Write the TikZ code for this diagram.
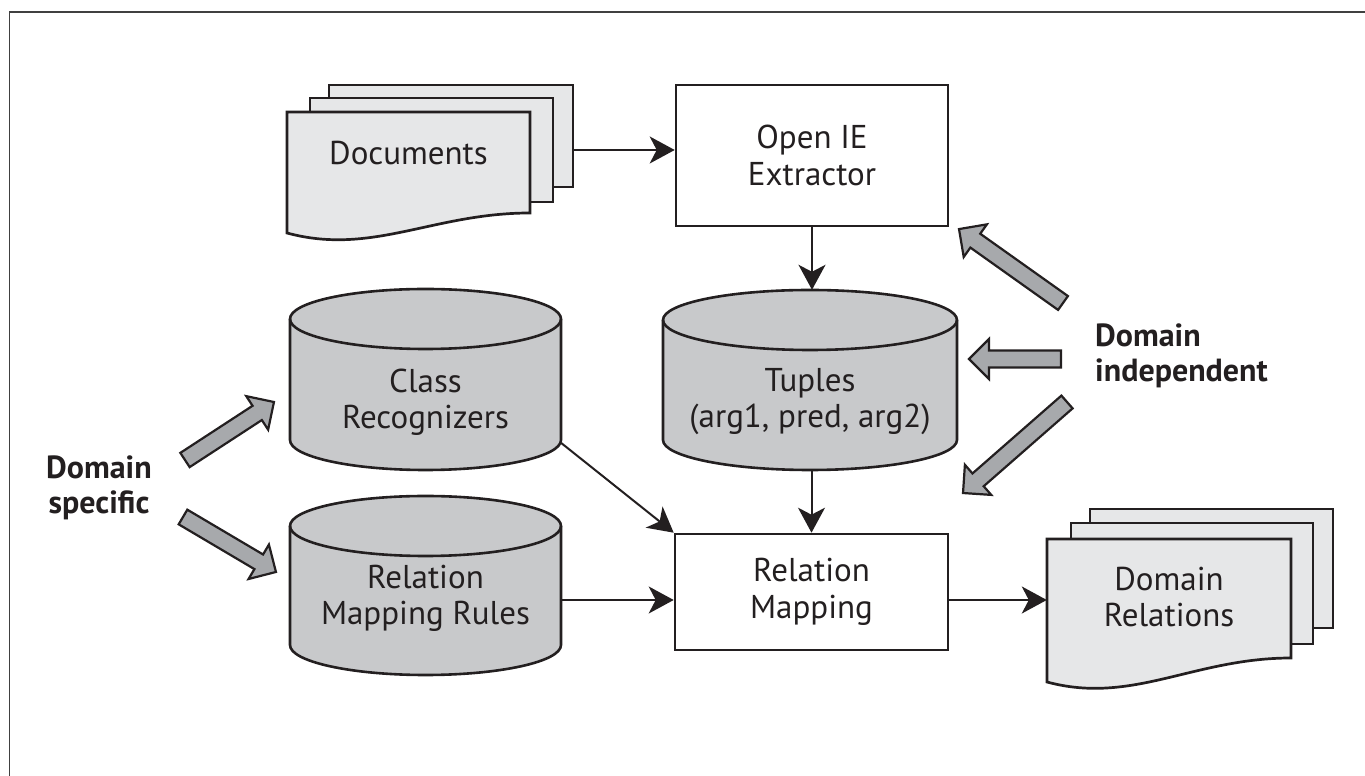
\documentclass[tikz,border=0pt]{standalone}
\usepackage{fontspec}
\setmainfont{PT Sans}
\usetikzlibrary{arrows.meta,calc}
\definecolor{ink}{HTML}{231F20}
\definecolor{docgray}{HTML}{E6E7E8}
\definecolor{cylgray}{HTML}{C8C9CB}
\definecolor{fatgray}{HTML}{A7A9AC}
\tikzset{
  docline/.style={draw=ink, fill=docgray, line width=2.7pt, line join=miter},
  cylline/.style={draw=ink, fill=cylgray, line width=2.6pt},
  boxnode/.style={draw=ink, fill=white, line width=2.6pt, align=center, text=ink,
    font=\fontsize{33}{37}\selectfont},
  txt/.style={align=center, text=ink, font=\fontsize{33}{36}\selectfont, inner sep=0pt},
  ghost/.style={draw=none, inner sep=0pt},
  lbl/.style={text=ink, font=\bfseries\fontsize{32}{35}\selectfont, inner sep=0pt},
  conn/.style={draw=ink, line width=2pt, -{Stealth[length=25pt, width=27pt, inset=7pt]}},
  fatarrow/.style={draw=ink, fill=fatgray, line width=2.2pt, line join=miter},
  frame/.style={draw=black!75, line width=1.5pt}
}
% front sheet of a document stack: x0, Ytop, width, left height, right height
\newcommand\docsheet[5]{%
  \filldraw[docline] (#1,#2) -- ({#1+#3},#2) -- ({#1+#3},{#2-#5})
    .. controls ({#1+0.6*#3},{#2-#5}) and ({#1+0.35*#3},{#2-#4-23}) .. (#1,{#2-#4}) -- cycle;}
% cylinder: x0, x1, Ytop, Ybottom, ry
\newcommand\cylshape[5]{%
  \filldraw[cylline] (#1,{#3-#5}) -- (#1,{#4+#5})
    arc[start angle=180, end angle=360, x radius={(#2-#1)/2}, y radius=#5]
    -- (#2,{#3-#5})
    arc[start angle=0, end angle=180, x radius={(#2-#1)/2}, y radius=#5] -- cycle;
  \draw[cylline, fill=none] (#1,{#3-#5})
    arc[start angle=180, end angle=360, x radius={(#2-#1)/2}, y radius=#5];}
% fat arrow: tail x, tail y, angle, length
\newcommand\fatarr[4]{%
  \filldraw[fatarrow, shift={(#1,#2)}, rotate=#3] (0,-8.5) -- ({#4-20},-8.5) -- ({#4-20},-20)
    -- (#4,0) -- ({#4-20},20) -- ({#4-20},8.5) -- (0,8.5) -- cycle;}

\begin{document}
\begin{tikzpicture}[x=1pt, y=1pt]
\useasboundingbox (0,0) rectangle (1365,776);
\begin{scope}
  \clip (0,0) rectangle (1365,776);
  \draw[frame] (9.5,-20) rectangle (1400,764);
\end{scope}

% ---- Documents stack
\filldraw[docline] (329,589) rectangle (573,691);
\filldraw[docline] (310,574) rectangle (553,678);
\docsheet{287}{664}{243}{121}{101}
\node[ghost, minimum width=244pt, minimum height=102pt] (docsB) at (451,640) {};
\node[txt] (docs) at (408.5,623) {Documents};

% ---- Domain Relations stack
\filldraw[docline] (1090,148) rectangle (1333,267);
\filldraw[docline] (1071,132) rectangle (1313,253);
\docsheet{1047}{237}{244}{143}{119}
\node[ghost, minimum width=244pt, minimum height=143pt] (drF) at (1169,165.5) {};
\node[txt] (domrel) at (1169,179) {Domain\\Relations};

% ---- boxes
\node[boxnode, minimum width=272pt, minimum height=141pt] (openie) at (812,620.5) {Open IE\\Extractor};
\node[boxnode, minimum width=273pt, minimum height=116pt] (rm) at (811.5,184) {Relation\\Mapping};

% ---- cylinders
\cylshape{290}{561}{487}{306}{30}
\node[ghost, minimum width=271pt, minimum height=181pt] (cr) at (425.5,396.5) {};
\node[txt] (crt) at (425.5,374) {Class\\Recognizers};

\cylshape{290}{561}{280}{101}{30}
\node[ghost, minimum width=271pt, minimum height=179pt] (rmr) at (425.5,190.5) {};
\node[txt] (rmrt) at (425.5,178) {Relation\\Mapping Rules};

\cylshape{663}{957}{486}{306}{30}
\node[ghost, minimum width=294pt, minimum height=180pt] (tup) at (810,396) {};
\node[txt] (tupt) at (810,374) {Tuples\\(arg1, pred, arg2)};

% ---- connectors
\coordinate (docsout) at ([yshift=-14pt]docsB.east);
\draw[conn] (docsout) -- (docsout -| openie.west);
\draw[conn] (openie.south) -- (openie.south |- tup.north);
\draw[conn] (rm.north |- tup.south) -- (rm.north);
\coordinate (crout) at ([yshift=-63.5pt]cr.east);
\draw[conn] (crout) -- (rm.north west);
\coordinate (rmrout) at ([yshift=-14.5pt]rmr.east);
\draw[conn] (rmrout) -- (rmrout -| rm.west);
\coordinate (rmout) at ([yshift=-8pt]rm.east);
\draw[conn] (rmout) -- (rmout -| drF.west);

% ---- labels
\node[lbl, align=center] (dspec) at (99,288.5) {Domain\\specific};
\node[lbl, align=left, anchor=west] (dind) at (1095,420.5) {Domain\\independent};

% ---- fat arrows
\fatarr{1063}{473}{144.6}{127.6}
\fatarr{1061}{417}{180}{92}
\fatarr{1067}{374}{221.2}{138.2}
\fatarr{185}{316}{33.1}{106.2}
\fatarr{183}{259}{-30.6}{108}
\end{tikzpicture}
\end{document}
